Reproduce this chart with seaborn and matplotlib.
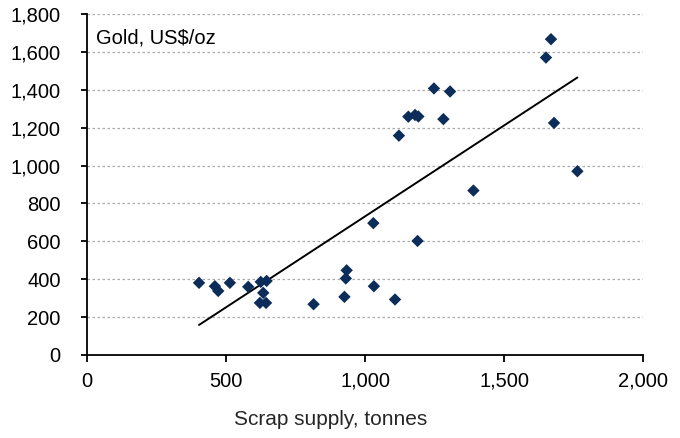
import matplotlib
matplotlib.use("Agg")
import matplotlib.pyplot as plt
import matplotlib.ticker as mticker
import seaborn as sns
import pandas as pd

scrap_tonnes = [403, 460, 472, 514, 580, 622, 625, 634, 644, 646,
                815, 926, 931, 934, 1030, 1032, 1108, 1122, 1156, 1180,
                1189, 1192, 1248, 1282, 1306, 1390, 1651, 1669, 1680, 1764]
gold_price = [381, 363, 338, 381, 360, 275, 386, 328, 275, 391,
              268, 307, 404, 447, 696, 363, 293, 1158, 1258, 1267,
              602, 1259, 1407, 1245, 1391, 868, 1570, 1667, 1225, 970]

x_ticks = [0, 500, 1000, 1500, 2000]
y_ticks = [0, 200, 400, 600, 800, 1000, 1200, 1400, 1600, 1800]

df = pd.DataFrame({"scrap": scrap_tonnes, "gold": gold_price})

sns.set_style("white")
plt.rcParams["font.family"] = ["Liberation Sans", "DejaVu Sans"]

fig = plt.figure(figsize=(6.8, 4.38), dpi=100)
ax = fig.add_axes([87/680, 1-355/438, 556/680, 341/438])

sns.regplot(data=df, x="scrap", y="gold", ax=ax, scatter=False, ci=None,
            color="black", line_kws={"linewidth": 1.4}, truncate=True)
sns.scatterplot(data=df, x="scrap", y="gold", ax=ax, marker="D", s=40,
                color="#0c2d5a", edgecolor="none", zorder=3)

ax.set_xlim(0, 2000)
ax.set_ylim(0, 1800)
ax.set_xticks(x_ticks)
ax.set_yticks(y_ticks)
fmt = mticker.FuncFormatter(lambda v, p: f"{int(v):,}")
ax.xaxis.set_major_formatter(fmt)
ax.yaxis.set_major_formatter(fmt)

for yv in y_ticks[1:]:
    ax.axhline(yv, color="#aaaaaa", linestyle=(0, (2, 2)), linewidth=0.9, zorder=0)

for side in ["top", "right"]:
    ax.spines[side].set_visible(False)
for side in ["left", "bottom"]:
    ax.spines[side].set_color("black")
    ax.spines[side].set_linewidth(1.3)

ax.tick_params(axis="both", which="major", direction="out", width=1.3,
               color="black", labelsize=14.5, labelcolor="black")
ax.tick_params(axis="x", bottom=True, length=5, pad=7)
ax.tick_params(axis="y", left=True, length=4, pad=15)

ax.set_xlabel("Scrap supply, tonnes", fontsize=15, labelpad=14, x=0.439)
ax.set_ylabel("")
ax.text(0.017, 0.93, "Gold, US$/oz", transform=ax.transAxes, fontsize=14.5,
        ha="left", va="center", color="black")

fig.savefig("out.png", dpi=100)
